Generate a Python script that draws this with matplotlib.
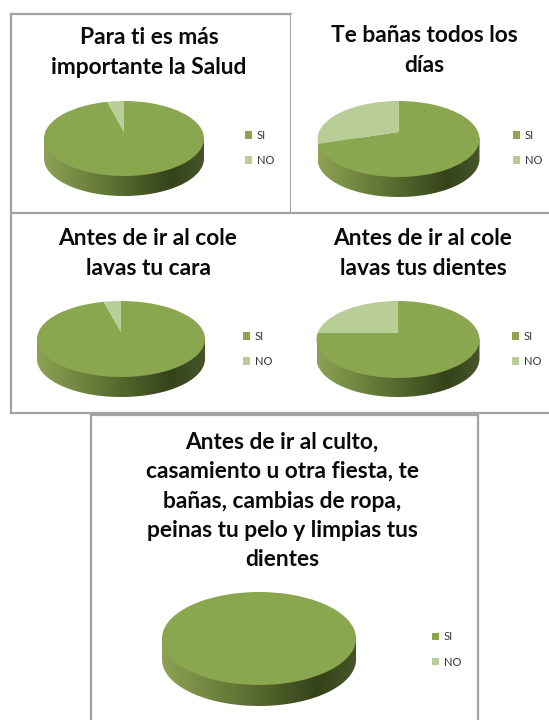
import numpy as np
import matplotlib
matplotlib.use('Agg')
from matplotlib import pyplot as plt
from matplotlib.colors import LinearSegmentedColormap
from matplotlib.patches import Polygon
from matplotlib.transforms import Transform

plt.rcParams['font.family'] = ['Lato', 'DejaVu Sans']

titles = [
    'Para ti es más\nimportante la Salud',
    'Te bañas todos los\ndías',
    'Antes de ir al cole\nlavas tu cara',
    'Antes de ir al cole\nlavas tus dientes',
    'Antes de ir al culto,\ncasamiento u otra fiesta, te\nbañas, cambias de ropa,\npeinas tu pelo y limpias tus\ndientes',
]
labels = ['SI', 'NO']
si_values = [96, 70, 96, 75, 100]
no_values = [4, 30, 4, 25, 0]

# layout in image pixels
boxes = [(11, 291, 14, 212), (291, 549, 14, 212), (11, 289, 213, 413),
         (289, 549, 213, 413), (91, 478, 415, 720)]
hidden = [['bottom'], ['top', 'right', 'bottom', 'left'], ['right'], ['right', 'left'], ['bottom']]
title_pos = [(149, 52.5), (424, 50.5), (148, 253.5), (423, 253.5), (282, 501)]
# apex x, apex y, half width, dist to back, dist to front, side depth
pies = [(124, 132, 80, 31, 44, 20), (398.5, 132, 81, 31, 45, 20), (121, 332, 84, 31, 45, 20),
        (398, 333, 81.5, 32, 45, 19), (259, 630, 97, 38, 55, 21)]
legend_pos = [(245, 148), (513, 148), (243, 349), (512, 349), (432, 649.5)]

SI_COLOR = '#8aa64e'
NO_COLOR = '#b9cd96'
side_cmap = LinearSegmentedColormap.from_list(
    'side', [(0, '#8da253'), (0.35, '#667a38'), (0.8, '#35421a'), (1, '#46562a')])


class Tilt(Transform):
    # perspective look of the old office 3d pies, apex sits behind the disc centre
    input_dims = output_dims = 2
    is_separable = False

    def __init__(self, cx, cy, rx, ry, k):
        super().__init__()
        self.cx, self.cy, self.rx, self.ry, self.k = cx, cy, rx, ry, k

    def transform_non_affine(self, values):
        x, y = values[:, 0], values[:, 1]
        w = 1 + self.k * y
        return np.column_stack([self.cx + self.rx * x / w, self.cy - self.ry * y / w])


fig = plt.figure(figsize=(5.49, 7.2), dpi=100)

for i in range(len(titles)):
    x0, x1, y0, y1 = boxes[i]
    ax = fig.add_axes([x0 / 549, 1 - y1 / 720, (x1 - x0) / 549, (y1 - y0) / 720])

    cx, cy, half_w, back, front, depth = pies[i]
    k = (front - back) / (front + back)
    ry = back * (1 + k)
    rx = half_w * np.sqrt(1 - k ** 2)

    wedges, _ = ax.pie([si_values[i], no_values[i]], colors=[SI_COLOR, NO_COLOR], startangle=90,
                       counterclock=False, frame=True)
    ax.set_aspect('auto')

    ax.legend(wedges, labels, loc='center left', bbox_to_anchor=legend_pos[i], bbox_transform=ax.transData,
              frameon=False, fontsize=8, borderpad=0, borderaxespad=0, handlelength=0.64, handleheight=0.64,
              handletextpad=0.4, labelspacing=1.27, labelcolor='#333333')

    tilt = Tilt(cx, cy, rx, ry, k)
    for w in wedges:
        w.set_transform(tilt + ax.transData)

    # side of the disc: gradient clipped to the swept outline
    half_h = (front + back) / 2
    mid_y = cy + (front - back) / 2
    t = np.linspace(0, np.pi, 100)
    low = np.column_stack([cx + half_w * np.cos(t), mid_y + depth + half_h * np.sin(t)])
    up = np.column_stack([cx - half_w * np.cos(t), mid_y - half_h * np.sin(t)])
    outline = Polygon(np.vstack([low, up]), transform=ax.transData)
    im = ax.imshow(np.linspace(0, 1, 256).reshape(1, -1), cmap=side_cmap, aspect='auto', zorder=0,
                   extent=[cx - half_w, cx + half_w, mid_y + half_h + depth, mid_y])
    im.set_clip_path(outline)

    ax.text(title_pos[i][0], title_pos[i][1], titles[i], ha='center', va='center', fontsize=16.4,
            fontweight='bold', color='#0a0a0a', linespacing=1.5)

    ax.set_xlim(x0, x1)
    ax.set_ylim(y1, y0)
    ax.set_xticks([])
    ax.set_yticks([])
    for name, spine in ax.spines.items():
        spine.set_color('#a3a3a3')
        spine.set_linewidth(1.6)
        spine.set_visible(name not in hidden[i])

fig.savefig('out.png', dpi=100, facecolor='white')
